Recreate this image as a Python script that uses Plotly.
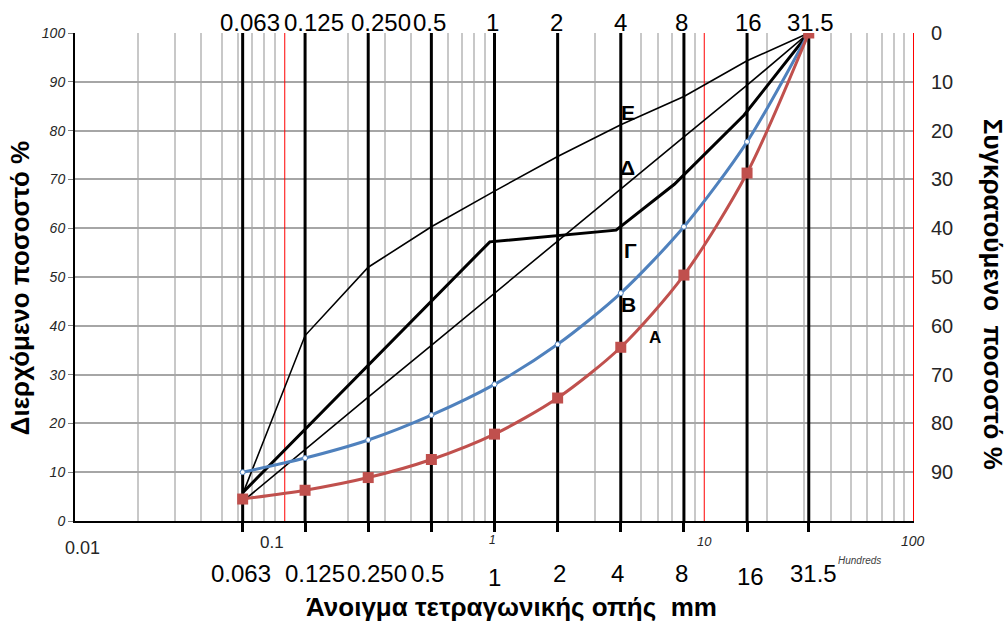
import math
import plotly.graph_objects as go

# Sieve openings (mm) and their printed labels
sieves = [0.063, 0.125, 0.25, 0.5, 1, 2, 4, 8, 16, 31.5]
sieve_labels = ["0.063", "0.125", "0.250", "0.5", "1", "2", "4", "8", "16", "31.5"]

# Passing percentages of the grading curves at each sieve
curve_A = [4.5, 6.3, 8.9, 12.6, 17.8, 25.2, 35.6, 50.4, 71.3, 100]
curve_B = [10.0, 12.9, 16.6, 21.7, 28.0, 36.2, 46.7, 60.3, 77.7, 100]
curve_D = [4.0, 14.7, 25.4, 36.0, 46.7, 57.3, 68.0, 78.7, 89.3, 100]
curve_E = [5.5, 38.0, 52.0, 60.3, 67.6, 74.7, 81.2, 87.0, 94.3, 100]
# Gap-graded curve Γ has its own break points
gamma_x = [0.063, 0.95, 3.8, 7.2, 15.5, 31.5]
gamma_y = [5.8, 57.2, 59.6, 69.0, 83.2, 100]

# Axis ticks
decades = [0.01, 0.1, 1, 10, 100]
decade_labels = ["0.01", "0.1", "1", "10", "100"]
passing_ticks = list(range(0, 101, 10))
retained_ticks = list(range(0, 91, 10))

FONT = "Arial, Liberation Sans, sans-serif"
RED = "#C0504D"
BLUE = "#4F81BD"

minor_grid = [m * d for d in decades[:-1] for m in range(2, 10)]

fig = go.Figure()

fig.add_trace(go.Scatter(
    x=sieves, y=curve_E, mode="lines",
    line=dict(color="black", width=1.6), name="Ε", showlegend=False))
fig.add_trace(go.Scatter(
    x=sieves, y=curve_D, mode="lines",
    line=dict(color="black", width=1.6), name="Δ", showlegend=False))
fig.add_trace(go.Scatter(
    x=gamma_x, y=gamma_y, mode="lines",
    line=dict(color="black", width=3), name="Γ", showlegend=False))
fig.add_trace(go.Scatter(
    x=sieves, y=curve_B, mode="lines+markers",
    line=dict(color=BLUE, width=3, shape="spline", smoothing=0.8),
    marker=dict(symbol="circle", size=5, color="white",
                line=dict(color=BLUE, width=1)),
    name="Β", showlegend=False))
fig.add_trace(go.Scatter(
    x=sieves, y=curve_A, mode="lines+markers",
    line=dict(color=RED, width=3, shape="spline", smoothing=0.8),
    marker=dict(symbol="square", size=11, color=RED),
    name="Α", showlegend=False))

# Secondary (retained %) axis carrier
fig.add_trace(go.Scatter(x=[1], y=[50], yaxis="y2", mode="markers",
                         marker=dict(opacity=0), hoverinfo="skip",
                         showlegend=False))

shapes = []
# decade grid lines in red
for d in decades[1:]:
    shapes.append(dict(type="line", xref="x", yref="y", x0=d, x1=d, y0=0, y1=100,
                       line=dict(color="#FF0000", width=2 if d == 100 else 1),
                       layer="between"))
# heavy sieve lines
for s in sieves:
    shapes.append(dict(type="line", xref="x", yref="y", x0=s, x1=s, y0=0, y1=100,
                       line=dict(color="black", width=3), layer="between"))

annotations = []
# sieve labels above and below the chart
top_shift = [7, 9, 13, -2, -2, -1, 0, -2, 1, 2]
bot_shift = [-2, 10, 9, -4, 0, 2, -3, -2, 3, 5]
bot_yshift = [0, 0, 0, 0, -4, 0, 0, 0, -3, 0]
for s, lab, ts, bs, by in zip(sieves, sieve_labels, top_shift, bot_shift, bot_yshift):
    annotations.append(dict(x=math.log10(s), y=1.0225, xref="x", yref="paper",
                            text=lab, showarrow=False, xshift=ts, yanchor="middle",
                            font=dict(family=FONT, size=24, color="black")))
    annotations.append(dict(x=math.log10(s), y=-0.1066, xref="x", yref="paper",
                            text=lab, showarrow=False, xshift=bs, yshift=by,
                            yanchor="middle",
                            font=dict(family=FONT, size=24, color="black")))

# decade labels of the log axis
dec_style = [
    dict(size=18, style="normal", xshift=7, y=-0.0553),
    dict(size=17, style="normal", xshift=-13, y=-0.045),
    dict(size=12, style="italic", xshift=-2, y=-0.039),
    dict(size=13, style="italic", xshift=0, y=-0.041),
    dict(size=14, style="italic", xshift=-1, y=-0.041),
]
for d, lab, st in zip(decades, decade_labels, dec_style):
    annotations.append(dict(x=math.log10(d), y=st["y"], xref="x", yref="paper",
                            text=lab, showarrow=False, xshift=st["xshift"],
                            yanchor="middle",
                            font=dict(family=FONT, size=st["size"], style=st["style"],
                                      color="#262626")))
# display-unit caption of the log axis
annotations.append(dict(x=0.9630, y=-0.0800, xref="paper", yref="paper",
                        text="Hundreds", showarrow=False, yanchor="middle",
                        font=dict(family=FONT, size=10, style="italic", color="#404040")))

# curve names
curve_names = [("Ε", 0.6365, 83.8, 21), ("Δ", 0.634, 72.5, 21), ("Γ", 0.646, 55.5, 21),
               ("Β", 0.641, 44.3, 21), ("Α", 0.765, 37.7, 17)]
for txt, lx, ly, fs in curve_names:
    annotations.append(dict(x=lx, y=ly, xref="x", yref="y", text=f"<b>{txt}</b>",
                            showarrow=False,
                            font=dict(family=FONT, size=fs, color="black")))

# axis titles
annotations.append(dict(x=0.52, y=-0.1766, xref="paper", yref="paper",
                        text="<b>Άνοιγμα τετραγωνικής οπής  mm</b>", showarrow=False,
                        yanchor="middle",
                        font=dict(family=FONT, size=26, color="black")))
annotations.append(dict(x=-0.0656, y=0.477, xref="paper", yref="paper",
                        text="<b>Διερχόμενο ποσοστό %</b>", showarrow=False,
                        textangle=-90, xanchor="center", yanchor="middle",
                        font=dict(family=FONT, size=26, color="black")))
annotations.append(dict(x=1.0945, y=0.465, xref="paper", yref="paper",
                        text="<b>Συγκρατούμενο  ποσοστό %</b>", showarrow=False,
                        textangle=90, xanchor="center", yanchor="middle",
                        font=dict(family=FONT, size=26, color="black")))

fig.update_layout(
    width=1008, height=623,
    margin=dict(l=75, r=94, t=33, b=102),
    paper_bgcolor="white", plot_bgcolor="white",
    showlegend=False,
    shapes=shapes, annotations=annotations,
    xaxis=dict(
        type="log", range=[-2, 2],
        tickvals=sieves, ticks="outside", ticklen=9, tickwidth=3, tickcolor="black",
        showticklabels=False, showgrid=False, zeroline=False,
        showline=True, linecolor="black", linewidth=2,
        minor=dict(tickvals=minor_grid, showgrid=True, gridcolor="#C8C8C8",
                   gridwidth=1.5, ticks=""),
    ),
    yaxis=dict(
        range=[0, 100], tickvals=passing_ticks, ticks="outside", ticklen=5,
        tickcolor="#808080", showgrid=True, gridcolor="#A6A6A6", gridwidth=1.5,
        zeroline=False, showline=True, linecolor="black", linewidth=2,
        tickfont=dict(family=FONT, size=14, style="italic", color="#262626"),
    ),
    yaxis2=dict(
        overlaying="y", side="right", range=[100, 0], tickvals=retained_ticks,
        ticks="outside", ticklen=12, tickcolor="rgba(0,0,0,0)",
        showgrid=False, zeroline=False, showline=False,
        tickfont=dict(family=FONT, size=20, color="#262626"),
    ),
)

fig.write_html("out.html")
